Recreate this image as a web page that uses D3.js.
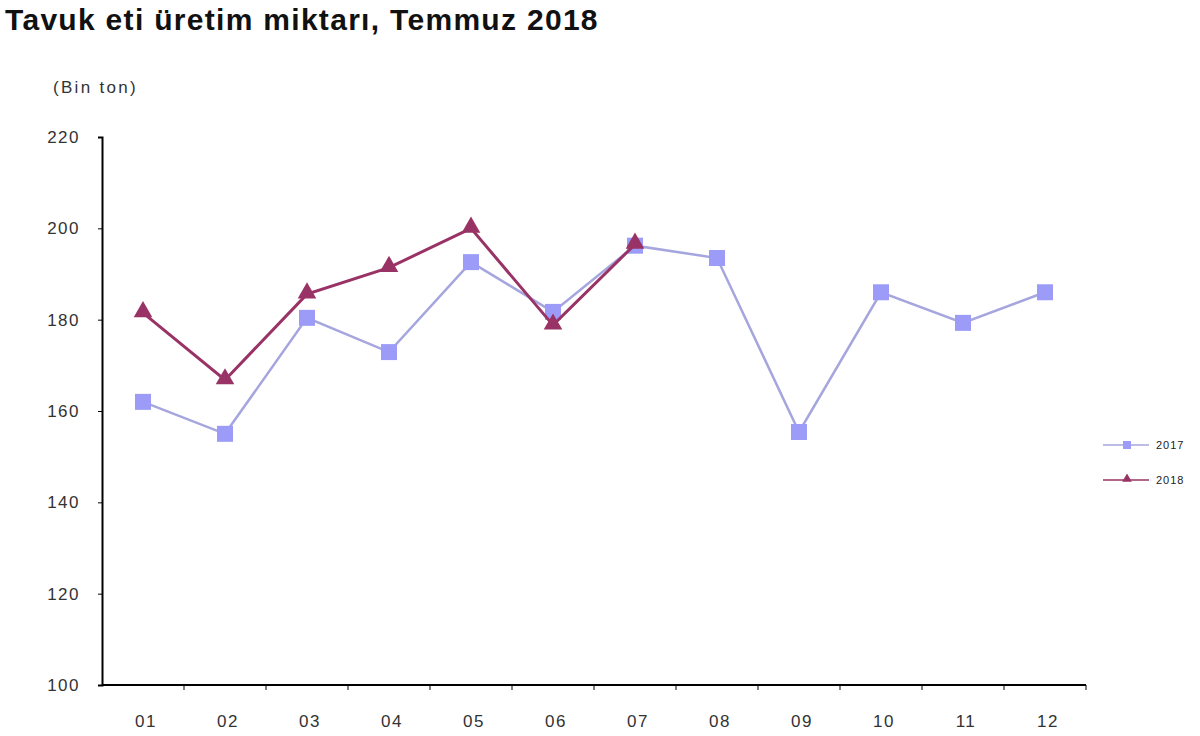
<!DOCTYPE html>
<html>
<head>
<meta charset="utf-8">
<script src="https://cdn.jsdelivr.net/npm/d3@7"></script>
<style>
  body { margin: 0; background: #fff; }
  text { font-family: "Liberation Sans", Arial, sans-serif; }
</style>
</head>
<body>
<svg id="chart" width="1200" height="736"></svg>
<script>
// Months on the x axis
var months = ["01", "02", "03", "04", "05", "06", "07", "08", "09", "10", "11", "12"];
// Production, thousand tonnes
var values2017 = [162, 155, 180.4, 172.9, 192.6, 181.7, 196.2, 193.5, 155.4, 186, 179.3, 186];
var values2018 = [181.5, 166.8, 185.6, 191.4, 200, 178.8, 196.5];
var yTicks = [100, 120, 140, 160, 180, 200, 220];

var svg = d3.select("#chart");

// plot area
var plotLeft = 102, plotRight = 1086, plotTop = 137, plotBottom = 685;

var x = d3.scaleBand().domain(months).range([plotLeft, plotRight]);
var y = d3.scaleLinear().domain([100, 220]).range([plotBottom, plotTop]);

// Title
svg.append("text")
  .attr("x", 5).attr("y", 30)
  .style("font-size", "30px").style("font-weight", "bold")
  .style("letter-spacing", "1.3px")
  .attr("fill", "#111")
  .text("Tavuk eti üretim miktarı, Temmuz 2018");

svg.append("text")
  .attr("x", 53).attr("y", 93)
  .style("font-size", "17px").style("letter-spacing", "2.3px")
  .attr("fill", "#333")
  .text("(Bin ton)");

// Y axis
var yAxis = d3.axisLeft(y).tickValues(yTicks).tickSize(4).tickPadding(18);
var gy = svg.append("g")
  .attr("transform", "translate(" + plotLeft + ",0)")
  .call(yAxis);
gy.select(".domain").attr("stroke", "#000").attr("stroke-width", 2);
gy.selectAll(".tick line").attr("stroke", "#000");
gy.selectAll(".tick text")
  .style("font-size", "17px").style("letter-spacing", "1.5px")
  .style("font-family", "'Liberation Sans', Arial, sans-serif")
  .attr("fill", "#333");

// X axis: ticks sit between the months
var gx = svg.append("g").attr("transform", "translate(0," + plotBottom + ")");
gx.append("line")
  .attr("x1", plotLeft).attr("x2", plotRight)
  .attr("stroke", "#000").attr("stroke-width", 2);
gx.selectAll(".sep")
  .data(months)
  .enter().append("line")
  .attr("x1", function(d) { return x(d) + x.bandwidth(); })
  .attr("x2", function(d) { return x(d) + x.bandwidth(); })
  .attr("y1", 0).attr("y2", 5)
  .attr("stroke", "#000");
gx.selectAll(".lbl")
  .data(months)
  .enter().append("text")
  .attr("x", function(d) { return x(d) + x.bandwidth() / 2 + 3; })
  .attr("y", 42)
  .attr("text-anchor", "middle")
  .style("font-size", "17px").style("letter-spacing", "1.5px")
  .attr("fill", "#333")
  .text(function(d) { return d; });

var line = d3.line()
  .x(function(d, i) { return x(months[i]) + x.bandwidth() / 2; })
  .y(function(d) { return y(d); });

var tri = d3.symbol().type(d3.symbolTriangle).size(150);

// 2017 series
svg.append("path")
  .attr("d", line(values2017))
  .attr("fill", "none").attr("stroke", "#a6a6de").attr("stroke-width", 2.5);
svg.selectAll(".sq")
  .data(values2017)
  .enter().append("rect")
  .attr("x", function(d, i) { return x(months[i]) + x.bandwidth() / 2 - 8; })
  .attr("y", function(d) { return y(d) - 8; })
  .attr("width", 16).attr("height", 16)
  .attr("fill", "#9c9cf8");

// 2018 series
svg.append("path")
  .attr("d", line(values2018))
  .attr("fill", "none").attr("stroke", "#993366").attr("stroke-width", 3);
svg.selectAll(".tri")
  .data(values2018)
  .enter().append("path")
  .attr("d", tri)
  .attr("transform", function(d, i) {
    return "translate(" + (x(months[i]) + x.bandwidth() / 2) + "," + (y(d) - 1) + ")";
  })
  .attr("fill", "#993366");

// Legend
var legend = [
  {name: "2017", color: "#9c9cf8", line: "#a6a6de", shape: "square"},
  {name: "2018", color: "#993366", line: "#993366", shape: "triangle"}
];
var lg = svg.selectAll(".legend")
  .data(legend)
  .enter().append("g")
  .attr("transform", function(d, i) { return "translate(1103," + (445 + i * 35) + ")"; });
lg.append("line")
  .attr("x1", 0).attr("x2", 46)
  .attr("stroke", function(d) { return d.line; }).attr("stroke-width", 1.5);
lg.each(function(d) {
  var g = d3.select(this);
  if (d.shape === "square") {
    g.append("rect").attr("x", 20).attr("y", -4).attr("width", 8).attr("height", 8).attr("fill", d.color);
  } else {
    g.append("path").attr("d", d3.symbol().type(d3.symbolTriangle).size(40))
      .attr("transform", "translate(24,-1)").attr("fill", d.color);
  }
});
lg.append("text")
  .attr("x", 53).attr("y", 4)
  .style("font-size", "11px").style("letter-spacing", "1px")
  .attr("fill", "#222")
  .text(function(d) { return d.name; });
</script>
</body>
</html>
